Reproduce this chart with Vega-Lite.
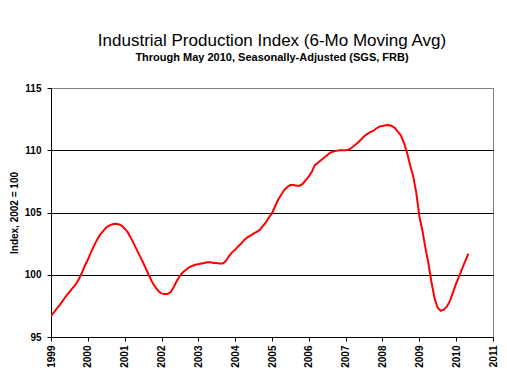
{
  "$schema": "https://vega.github.io/schema/vega-lite/v6.json",
  "autosize": "none",
  "width": 442,
  "height": 249,
  "padding": {"left": 51, "top": 88, "right": 14, "bottom": 45},
  "background": "white",
  "config": {
    "font": "Liberation Sans",
    "view": {"stroke": "#808080", "strokeWidth": 1}
  },
  "title": {
    "text": "Industrial Production Index (6-Mo Moving Avg)",
    "subtitle": "Through May 2010, Seasonally-Adjusted (SGS, FRB)",
    "anchor": "middle",
    "font": "Liberation Sans",
    "fontSize": 17,
    "fontWeight": "normal",
    "color": "black",
    "subtitleFont": "Liberation Sans",
    "subtitleFontSize": 11,
    "subtitleFontWeight": "bold",
    "subtitleColor": "black",
    "subtitlePadding": 2,
    "offset": 19
  },
  "data": {
    "values": [
      {"date": "1999-01-01", "v": 96.7}, {"date": "1999-02-01", "v": 97.0}, {"date": "1999-03-01", "v": 97.3}, {"date": "1999-04-01", "v": 97.6},
      {"date": "1999-05-01", "v": 97.95}, {"date": "1999-06-01", "v": 98.3}, {"date": "1999-07-01", "v": 98.6}, {"date": "1999-08-01", "v": 98.9},
      {"date": "1999-09-01", "v": 99.2}, {"date": "1999-10-01", "v": 99.6}, {"date": "1999-11-01", "v": 100.1}, {"date": "1999-12-01", "v": 100.7},
      {"date": "2000-01-01", "v": 101.2}, {"date": "2000-02-01", "v": 101.8}, {"date": "2000-03-01", "v": 102.3}, {"date": "2000-04-01", "v": 102.8},
      {"date": "2000-05-01", "v": 103.2}, {"date": "2000-06-01", "v": 103.5}, {"date": "2000-07-01", "v": 103.8}, {"date": "2000-08-01", "v": 103.95},
      {"date": "2000-09-01", "v": 104.05}, {"date": "2000-10-01", "v": 104.1}, {"date": "2000-11-01", "v": 104.05}, {"date": "2000-12-01", "v": 103.95},
      {"date": "2001-01-01", "v": 103.7}, {"date": "2001-02-01", "v": 103.4}, {"date": "2001-03-01", "v": 103.0}, {"date": "2001-04-01", "v": 102.5},
      {"date": "2001-05-01", "v": 102.0}, {"date": "2001-06-01", "v": 101.5}, {"date": "2001-07-01", "v": 101.0}, {"date": "2001-08-01", "v": 100.45},
      {"date": "2001-09-01", "v": 99.9}, {"date": "2001-10-01", "v": 99.4}, {"date": "2001-11-01", "v": 99.0}, {"date": "2001-12-01", "v": 98.7},
      {"date": "2002-01-01", "v": 98.5}, {"date": "2002-02-01", "v": 98.45}, {"date": "2002-03-01", "v": 98.45}, {"date": "2002-04-01", "v": 98.6},
      {"date": "2002-05-01", "v": 99.0}, {"date": "2002-06-01", "v": 99.5}, {"date": "2002-07-01", "v": 99.9}, {"date": "2002-08-01", "v": 100.2},
      {"date": "2002-09-01", "v": 100.4}, {"date": "2002-10-01", "v": 100.6}, {"date": "2002-11-01", "v": 100.7}, {"date": "2002-12-01", "v": 100.8},
      {"date": "2003-01-01", "v": 100.85}, {"date": "2003-02-01", "v": 100.9}, {"date": "2003-03-01", "v": 100.95}, {"date": "2003-04-01", "v": 101.0},
      {"date": "2003-05-01", "v": 101.0}, {"date": "2003-06-01", "v": 100.95}, {"date": "2003-07-01", "v": 100.95}, {"date": "2003-08-01", "v": 100.9},
      {"date": "2003-09-01", "v": 100.9}, {"date": "2003-10-01", "v": 101.1}, {"date": "2003-11-01", "v": 101.5}, {"date": "2003-12-01", "v": 101.8},
      {"date": "2004-01-01", "v": 102.0}, {"date": "2004-02-01", "v": 102.3}, {"date": "2004-03-01", "v": 102.5}, {"date": "2004-04-01", "v": 102.8},
      {"date": "2004-05-01", "v": 103.0}, {"date": "2004-06-01", "v": 103.15}, {"date": "2004-07-01", "v": 103.3}, {"date": "2004-08-01", "v": 103.45},
      {"date": "2004-09-01", "v": 103.6}, {"date": "2004-10-01", "v": 103.9}, {"date": "2004-11-01", "v": 104.2}, {"date": "2004-12-01", "v": 104.6},
      {"date": "2005-01-01", "v": 104.95}, {"date": "2005-02-01", "v": 105.5}, {"date": "2005-03-01", "v": 106.0}, {"date": "2005-04-01", "v": 106.4},
      {"date": "2005-05-01", "v": 106.8}, {"date": "2005-06-01", "v": 107.05}, {"date": "2005-07-01", "v": 107.2}, {"date": "2005-08-01", "v": 107.2},
      {"date": "2005-09-01", "v": 107.15}, {"date": "2005-10-01", "v": 107.15}, {"date": "2005-11-01", "v": 107.3}, {"date": "2005-12-01", "v": 107.6},
      {"date": "2006-01-01", "v": 107.9}, {"date": "2006-02-01", "v": 108.3}, {"date": "2006-03-01", "v": 108.8}, {"date": "2006-04-01", "v": 109.0},
      {"date": "2006-05-01", "v": 109.2}, {"date": "2006-06-01", "v": 109.4}, {"date": "2006-07-01", "v": 109.6}, {"date": "2006-08-01", "v": 109.8},
      {"date": "2006-09-01", "v": 109.9}, {"date": "2006-10-01", "v": 109.95}, {"date": "2006-11-01", "v": 110.0}, {"date": "2006-12-01", "v": 110.0},
      {"date": "2007-01-01", "v": 110.0}, {"date": "2007-02-01", "v": 110.05}, {"date": "2007-03-01", "v": 110.2}, {"date": "2007-04-01", "v": 110.4},
      {"date": "2007-05-01", "v": 110.6}, {"date": "2007-06-01", "v": 110.85}, {"date": "2007-07-01", "v": 111.1}, {"date": "2007-08-01", "v": 111.3},
      {"date": "2007-09-01", "v": 111.45}, {"date": "2007-10-01", "v": 111.55}, {"date": "2007-11-01", "v": 111.75}, {"date": "2007-12-01", "v": 111.9},
      {"date": "2008-01-01", "v": 111.95}, {"date": "2008-02-01", "v": 112.0}, {"date": "2008-03-01", "v": 112.03}, {"date": "2008-04-01", "v": 111.95},
      {"date": "2008-05-01", "v": 111.8}, {"date": "2008-06-01", "v": 111.5}, {"date": "2008-07-01", "v": 111.2}, {"date": "2008-08-01", "v": 110.6},
      {"date": "2008-09-01", "v": 109.8}, {"date": "2008-10-01", "v": 108.8}, {"date": "2008-11-01", "v": 107.9}, {"date": "2008-12-01", "v": 106.6},
      {"date": "2009-01-01", "v": 104.7}, {"date": "2009-02-01", "v": 103.5}, {"date": "2009-03-01", "v": 102.2}, {"date": "2009-04-01", "v": 100.9},
      {"date": "2009-05-01", "v": 99.4}, {"date": "2009-06-01", "v": 98.1}, {"date": "2009-07-01", "v": 97.35}, {"date": "2009-08-01", "v": 97.1},
      {"date": "2009-09-01", "v": 97.2}, {"date": "2009-10-01", "v": 97.45}, {"date": "2009-11-01", "v": 97.9}, {"date": "2009-12-01", "v": 98.6},
      {"date": "2010-01-01", "v": 99.3}, {"date": "2010-02-01", "v": 99.9}, {"date": "2010-03-01", "v": 100.5}, {"date": "2010-04-01", "v": 101.1},
      {"date": "2010-05-01", "v": 101.7}
    ]
  },
  "mark": {"type": "line", "color": "#FF0000", "strokeWidth": 2, "clip": true},
  "encoding": {
    "x": {
      "field": "date",
      "type": "temporal",
      "scale": {"type": "utc", "domain": ["1999-01-01", "2011-01-01"], "nice": false},
      "axis": {
        "title": null,
        "format": "%Y",
        "formatType": "utc",
        "tickCount": {"interval": "year", "step": 1},
        "labelAngle": -90,
        "labelFont": "Liberation Sans",
        "labelFontSize": 10,
        "labelFontWeight": "bold",
        "labelColor": "black",
        "labelPadding": 4,
        "labelOverlap": false,
        "labelFlush": false,
        "grid": false,
        "domainColor": "black",
        "tickColor": "black",
        "tickSize": 4
      }
    },
    "y": {
      "field": "v",
      "type": "quantitative",
      "scale": {"domain": [95, 115], "nice": false, "zero": false},
      "axis": {
        "title": "Index, 2002 = 100",
        "titleFont": "Liberation Sans",
        "titleFontSize": 10,
        "titleFontWeight": "bold",
        "titleColor": "black",
        "titlePadding": 5,
        "values": [95, 100, 105, 110, 115],
        "labelFont": "Liberation Sans",
        "labelFontSize": 10,
        "labelFontWeight": "bold",
        "labelColor": "black",
        "labelPadding": 6,
        "grid": true,
        "gridColor": {"condition": {"test": "datum.value == 115", "value": "#808080"}, "value": "black"},
        "gridOpacity": 1,
        "domainColor": "black",
        "tickColor": "black",
        "tickSize": 4
      }
    }
  }
}
